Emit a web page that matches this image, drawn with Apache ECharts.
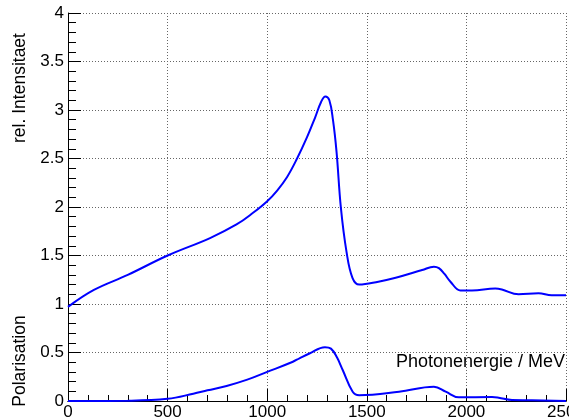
<!DOCTYPE html>
<html>
<head>
<meta charset="utf-8">
<script src="https://cdn.jsdelivr.net/npm/echarts@6/dist/echarts.min.js"></script>
<style>
  html, body { margin: 0; padding: 0; background: #fff; }
  #chart { width: 569px; height: 420px; }
</style>
</head>
<body>
<div id="chart"></div>
<script>
// Relative intensity of the coherent bremsstrahlung spectrum vs photon energy
const intensityEnergy = [0, 130, 300, 500, 713, 846, 929, 1000, 1050, 1100, 1150, 1200, 1240, 1270, 1292, 1312, 1330, 1348, 1370, 1398, 1428, 1462, 1558, 1645, 1778, 1837, 1862, 1890, 1920, 1970, 2028, 2145, 2178, 2262, 2362, 2428, 2500];
const intensityValue  = [0.97, 1.145, 1.30, 1.50, 1.68, 1.82, 1.94, 2.06, 2.17, 2.31, 2.50, 2.72, 2.92, 3.08, 3.14, 3.10, 2.90, 2.57, 1.99, 1.54, 1.27, 1.20, 1.23, 1.27, 1.35, 1.385, 1.37, 1.31, 1.23, 1.14, 1.14, 1.16, 1.15, 1.10, 1.11, 1.09, 1.09];

// Linear polarisation degree vs photon energy
const polEnergy = [0, 300, 500, 629, 700, 796, 900, 1000, 1129, 1162, 1212, 1290, 1320, 1350, 1379, 1429, 1462, 1662, 1837, 1896, 1962, 2129, 2162, 2229, 2329, 2500];
const polValue  = [0, 0.003, 0.022, 0.075, 0.11, 0.155, 0.22, 0.30, 0.405, 0.44, 0.49, 0.555, 0.54, 0.45, 0.32, 0.096, 0.06, 0.096, 0.147, 0.096, 0.038, 0.041, 0.034, 0.01, 0.008, 0.0];

// Axis ticks
const xTicks = [0, 500, 1000, 1500, 2000, 2500];
const yTicks = [0, 0.5, 1, 1.5, 2, 2.5, 3, 3.5, 4];

const FONT = 'Liberation Sans, Arial, Helvetica, sans-serif';
const pair = (xs, ys) => xs.map((x, i) => [x, ys[i]]);

const chart = echarts.init(document.getElementById('chart'), null, { renderer: 'canvas' });

const gridLine = { show: true, lineStyle: { color: '#666', type: [1, 2], width: 1 } };

chart.setOption({
  animation: false,
  backgroundColor: '#fff',
  grid: { left: 68, right: 3, top: 13, bottom: 19, containLabel: false, outerBoundsMode: 'none' },
  xAxis: [{
    type: 'value',
    min: xTicks[0], max: xTicks[xTicks.length - 1], interval: 500,
    axisLine: { show: true, onZero: false, lineStyle: { color: '#000', width: 1 } },
    axisTick: { show: true, inside: true, length: 12, lineStyle: { color: '#000' } },
    minorTick: { show: true, splitNumber: 5, length: 6, lineStyle: { color: '#000' } },
    axisLabel: { color: '#000', fontSize: 17, fontFamily: FONT, margin: 3, showMaxLabel: true,
                 hideOverlap: false, formatter: v => String(v) },
    splitLine: gridLine
  }, {
    type: 'value', position: 'top',
    min: xTicks[0], max: xTicks[xTicks.length - 1],
    axisLine: { show: true, lineStyle: { color: '#000', width: 1 } },
    axisTick: { show: false }, axisLabel: { show: false }, splitLine: { show: false }
  }],
  yAxis: {
    type: 'value',
    min: yTicks[0], max: yTicks[yTicks.length - 1], interval: 0.5,
    axisLine: { show: true, onZero: false, lineStyle: { color: '#000', width: 1 } },
    axisTick: { show: true, inside: true, length: 13, lineStyle: { color: '#000' } },
    minorTick: { show: true, splitNumber: 5, length: 8, lineStyle: { color: '#000' } },
    axisLabel: { color: '#000', fontSize: 17, fontFamily: FONT, margin: 4, formatter: v => String(v) },
    splitLine: gridLine
  },
  series: [{
    name: 'rel. Intensitaet',
    type: 'line',
    data: pair(intensityEnergy, intensityValue),
    showSymbol: false,
    smooth: 0.4,
    lineStyle: { color: '#0000ff', width: 2 },
    z: 5
  }, {
    name: 'Polarisation',
    type: 'line',
    data: pair(polEnergy, polValue),
    showSymbol: false,
    smooth: 0.4,
    lineStyle: { color: '#0000ff', width: 2 },
    z: 5
  }],
  graphic: [{
    type: 'text', x: 20, y: 88, rotation: Math.PI / 2,
    style: { text: 'rel. Intensitaet', font: '17.5px ' + FONT, fill: '#000', align: 'center', verticalAlign: 'middle' }
  }, {
    type: 'text', x: 20, y: 361, rotation: Math.PI / 2,
    style: { text: 'Polarisation', font: '17.5px ' + FONT, fill: '#000', align: 'center', verticalAlign: 'middle' }
  }, {
    type: 'text', x: 565, y: 362,
    style: { text: 'Photonenergie / MeV', font: '18px ' + FONT, fill: '#000', align: 'right', verticalAlign: 'middle' }
  }]
});
</script>
</body>
</html>
